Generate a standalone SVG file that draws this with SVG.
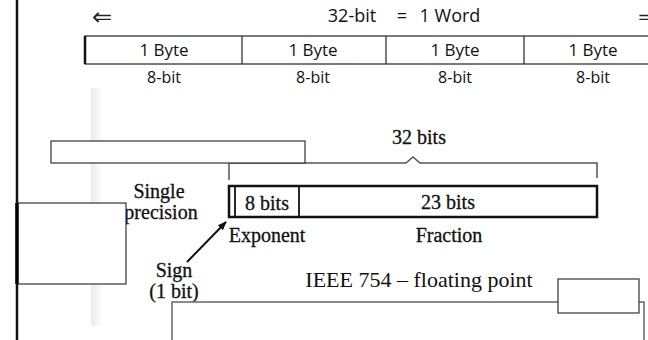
<svg xmlns="http://www.w3.org/2000/svg" width="648" height="340" viewBox="0 0 648 340">
<defs>
<linearGradient id="scan" x1="0" y1="0" x2="1" y2="0">
<stop offset="0" stop-color="#ebebeb"/>
<stop offset="1" stop-color="#ffffff"/>
</linearGradient>
<marker id="ah" viewBox="0 0 10 10" refX="9" refY="5" markerWidth="9" markerHeight="9" markerUnits="userSpaceOnUse" orient="auto">
<path d="M0,1 L10,5 L0,9 Z" fill="#111"/>
</marker>
<style>
.c{font-family:"Open Sans","DejaVu Sans",sans-serif;fill:#111;text-anchor:middle}
.a{font-family:"DejaVu Sans",sans-serif;font-size:24px;fill:#222}
.s{font-family:"Liberation Serif","Times New Roman",serif;font-size:20px;fill:#111;stroke:#111;stroke-width:0.3;text-anchor:middle}
.box{fill:#fff;stroke:#333;stroke-width:1.2}
.thin{fill:none;stroke:#333;stroke-width:1.3}
</style>
</defs>
<rect x="0" y="0" width="648" height="340" fill="#fff"/>
<rect x="91" y="88" width="12" height="238" fill="url(#scan)"/>
<line x1="17" y1="0" x2="17" y2="340" stroke="#111" stroke-width="2.5"/>

<g id="word-title">
<text x="92" y="25" class="a">⇐</text>
<text y="22" class="c" style="font-size:18px"><tspan x="352">32-bit</tspan><tspan x="402">=</tspan><tspan x="450">1 Word</tspan></text>
<text x="638" y="25" class="a">⇒</text>
</g>

<g id="byte-table">
<rect x="85" y="36" width="580" height="28" class="thin"/>
<line x1="85" y1="36" x2="85" y2="64" stroke="#111" stroke-width="2.5"/>
<line x1="242" y1="36" x2="242" y2="64" stroke="#333" stroke-width="1.3"/>
<line x1="386" y1="36" x2="386" y2="64" stroke="#333" stroke-width="1.3"/>
<line x1="524" y1="36" x2="524" y2="64" stroke="#333" stroke-width="1.3"/>
<text x="164" y="56" class="c" style="font-size:17px">1 Byte</text>
<text x="313" y="56" class="c" style="font-size:17px">1 Byte</text>
<text x="455" y="56" class="c" style="font-size:17px">1 Byte</text>
<text x="593" y="56" class="c" style="font-size:17px">1 Byte</text>
<text x="164" y="83" class="c" style="font-size:16px">8-bit</text>
<text x="313" y="83" class="c" style="font-size:16px">8-bit</text>
<text x="455" y="83" class="c" style="font-size:16px">8-bit</text>
<text x="593" y="83" class="c" style="font-size:16px">8-bit</text>
</g>

<g id="single-precision">
<text x="419" y="144" class="s">32 bits</text>
<path d="M229,180 V163 H406 L413,157 L420,163 H597 V178" fill="none" stroke="#555" stroke-width="1.5"/>
<rect x="229" y="186" width="368" height="31" fill="#fff" stroke="#111" stroke-width="2.5"/>
<line x1="235" y1="186" x2="235" y2="217" stroke="#111" stroke-width="1.8"/>
<line x1="299" y1="186" x2="299" y2="217" stroke="#111" stroke-width="1.8"/>
<text x="267" y="210" class="s">8 bits</text>
<text x="448" y="209" class="s">23 bits</text>
<text x="267" y="242" class="s">Exponent</text>
<text x="449" y="242" class="s">Fraction</text>
<text x="159" y="198" class="s">Single</text>
<text x="161" y="219" class="s">precision</text>
<text x="174" y="277" class="s">Sign</text>
<text x="174" y="298" class="s">(1 bit)</text>
<text x="419" y="287" class="s" style="font-size:22px;stroke-width:0">IEEE 754 – floating point</text>
</g>

<g id="connectors">
<line x1="187" y1="262" x2="226" y2="222" stroke="#111" stroke-width="2" marker-end="url(#ah)"/>
</g>

<g id="top-box"><rect x="51" y="141" width="254" height="22" class="box"/></g>
<g id="left-box">
<rect x="17" y="203" width="109" height="81" class="box"/>
<line x1="17" y1="203" x2="17" y2="284" stroke="#000" stroke-width="3.5"/>
</g>
<g id="bottom-box"><path d="M172,340 V302 H644 V340" fill="#fff" stroke="#666" stroke-width="1.5"/></g>
<g id="small-box"><rect x="558" y="279" width="81" height="34" class="box"/></g>
</svg>
